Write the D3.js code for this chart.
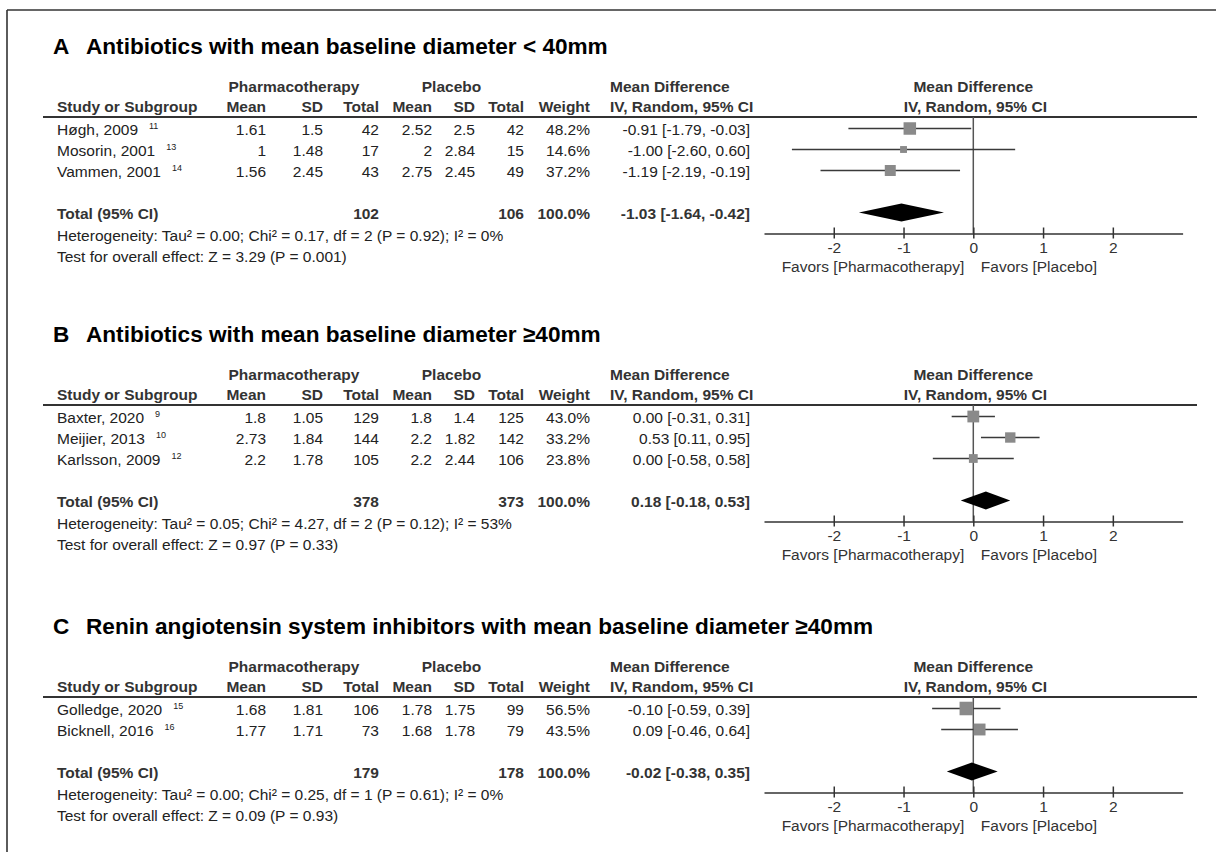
<!DOCTYPE html>
<html>
<head>
<meta charset="utf-8">
<script src="https://cdn.jsdelivr.net/npm/d3@7"></script>
<style>
  html, body { margin: 0; padding: 0; background: #fff; }
  svg { display: block; font-family: "Liberation Sans", Arial, sans-serif; }
</style>
</head>
<body>
<svg id="chart" width="1216" height="852"></svg>
<script>
// Panel titles
const panelLetters = ["A", "B", "C"];
const panelTitles = [
  "Antibiotics with mean baseline diameter < 40mm",
  "Antibiotics with mean baseline diameter ≥40mm",
  "Renin angiotensin system inhibitors with mean baseline diameter ≥40mm"
];

// Study rows: name, ref, pharm mean, pharm SD, pharm n, placebo mean, placebo SD, placebo n, weight %, MD, CI low, CI high
const rowsA = [
  ["Høgh, 2009", "11", 1.61, 1.5, 42, 2.52, 2.5, 42, 48.2, -0.91, -1.79, -0.03],
  ["Mosorin, 2001", "13", 1, 1.48, 17, 2, 2.84, 15, 14.6, -1.00, -2.60, 0.60],
  ["Vammen, 2001", "14", 1.56, 2.45, 43, 2.75, 2.45, 49, 37.2, -1.19, -2.19, -0.19]
];
const rowsB = [
  ["Baxter, 2020", "9", 1.8, 1.05, 129, 1.8, 1.4, 125, 43.0, 0.00, -0.31, 0.31],
  ["Meijier, 2013", "10", 2.73, 1.84, 144, 2.2, 1.82, 142, 33.2, 0.53, 0.11, 0.95],
  ["Karlsson, 2009", "12", 2.2, 1.78, 105, 2.2, 2.44, 106, 23.8, 0.00, -0.58, 0.58]
];
const rowsC = [
  ["Golledge, 2020", "15", 1.68, 1.81, 106, 1.78, 1.75, 99, 56.5, -0.10, -0.59, 0.39],
  ["Bicknell, 2016", "16", 1.77, 1.71, 73, 1.68, 1.78, 79, 43.5, 0.09, -0.46, 0.64]
];

// Pooled totals: pharm n, placebo n, weight %, MD, CI low, CI high
const totalA = [102, 106, 100.0, -1.03, -1.64, -0.42];
const totalB = [378, 373, 100.0, 0.18, -0.18, 0.53];
const totalC = [179, 178, 100.0, -0.02, -0.38, 0.35];

// Heterogeneity and overall-effect lines
const hetLines = [
  "Heterogeneity: Tau² = 0.00; Chi² = 0.17, df = 2 (P = 0.92); I² = 0%",
  "Heterogeneity: Tau² = 0.05; Chi² = 4.27, df = 2 (P = 0.12); I² = 53%",
  "Heterogeneity: Tau² = 0.00; Chi² = 0.25, df = 1 (P = 0.61); I² = 0%"
];
const testLines = [
  "Test for overall effect: Z = 3.29 (P = 0.001)",
  "Test for overall effect: Z = 0.97 (P = 0.33)",
  "Test for overall effect: Z = 0.09 (P = 0.93)"
];

// Forest axis
const axisDomain = [-3, 3];
const tickValues = [-2, -1, 0, 1, 2];
const favorsLeft = "Favors [Pharmacotherapy]";
const favorsRight = "Favors [Placebo]";

const panels = [
  { rows: rowsA, total: totalA },
  { rows: rowsB, total: totalB },
  { rows: rowsC, total: totalC }
];

// ---- layout ----
const ruleYs = [117, 405, 697];
const FS = 15.5;
const rowH = 21;
const cols = { name: 57, pMean: 266, pSD: 323, pN: 379, cMean: 432, cSD: 475, cN: 524, w: 590, ciL: 610, ci: 750 };
const textColor = "#222";
const headColor = "#333";

const svg = d3.select("#chart");

// Frame (top and left edges)
svg.append("line").attr("x1", 7).attr("x2", 1216).attr("y1", 10).attr("y2", 10)
  .attr("stroke", "#333").attr("stroke-width", 1.6);
svg.append("line").attr("x1", 7).attr("x2", 7).attr("y1", 10).attr("y2", 852)
  .attr("stroke", "#333").attr("stroke-width", 1.6);

const x = d3.scaleLinear().domain(axisDomain).range([764, 1182.6]);
const boxSize = d3.scaleSqrt().domain([0, 100]).range([0, 18]);

const fmtMD = v => v.toFixed(2);
const fmtCI = (m, l, h) => `${fmtMD(m)} [${fmtMD(l)}, ${fmtMD(h)}]`;

panels.forEach((p, pi) => {
  const ry = ruleYs[pi];
  const g = svg.append("g");

  // Title
  g.append("text").attr("x", 53).attr("y", ry - 63.5)
    .attr("font-size", 22.6).attr("font-weight", "bold").attr("fill", "#000")
    .text(panelLetters[pi]);
  g.append("text").attr("x", 86).attr("y", ry - 63.5)
    .attr("font-size", 22.6).attr("font-weight", "bold").attr("fill", "#000")
    .text(panelTitles[pi]);

  // Header rows
  const h1 = ry - 25, h2 = ry - 5;
  const head = (txt, xx, yy, anchor) => g.append("text")
    .attr("x", xx).attr("y", yy).attr("text-anchor", anchor)
    .attr("font-size", FS).attr("font-weight", "bold").attr("fill", headColor).text(txt);
  head("Pharmacotherapy", 294, h1, "middle");
  head("Placebo", 451.5, h1, "middle");
  head("Mean Difference", cols.ciL, h1, "start");
  head("Mean Difference", x(0), h1, "middle");
  head("Study or Subgroup", cols.name, h2, "start");
  head("Mean", cols.pMean, h2, "end");
  head("SD", cols.pSD, h2, "end");
  head("Total", cols.pN, h2, "end");
  head("Mean", cols.cMean, h2, "end");
  head("SD", cols.cSD, h2, "end");
  head("Total", cols.cN, h2, "end");
  head("Weight", cols.w, h2, "end");
  head("IV, Random, 95% CI", cols.ciL, h2, "start");
  head("IV, Random, 95% CI", x(0) + 2, h2, "middle");

  // Header rule
  g.append("line").attr("x1", 43).attr("x2", 1197).attr("y1", ry).attr("y2", ry)
    .attr("stroke", "#333").attr("stroke-width", 2);

  // Row geometry
  const rowY = i => ry + 11.5 + i * rowH;
  const diamondY = rowY(p.rows.length - 1) + 42;
  const axisY = diamondY + 21;

  // Zero line
  g.append("line").attr("x1", x(0)).attr("x2", x(0)).attr("y1", ry).attr("y2", axisY)
    .attr("stroke", "#555").attr("stroke-width", 1.5);

  // Study rows: table cells
  const rowG = g.selectAll("g.row").data(p.rows).join("g").attr("class", "row");
  rowG.each(function (d, i) {
    const rg = d3.select(this);
    const by = rowY(i) + 6;
    const name = rg.append("text").attr("x", cols.name).attr("y", by)
      .attr("font-size", FS).attr("fill", textColor).text(d[0]);
    name.append("tspan").attr("dx", 11).attr("dy", -6).attr("font-size", 9).text(d[1]);
    const cell = (txt, xx) => rg.append("text").attr("x", xx).attr("y", by)
      .attr("text-anchor", "end").attr("font-size", FS).attr("fill", textColor).text(txt);
    cell(String(d[2]), cols.pMean);
    cell(String(d[3]), cols.pSD);
    cell(String(d[4]), cols.pN);
    cell(String(d[5]), cols.cMean);
    cell(String(d[6]), cols.cSD);
    cell(String(d[7]), cols.cN);
    cell(d[8].toFixed(1) + "%", cols.w);
    cell(fmtCI(d[9], d[10], d[11]), cols.ci);

    // Forest marks: CI whisker and weighted square
    rg.append("line").attr("x1", x(d[10])).attr("x2", x(d[11]))
      .attr("y1", rowY(i)).attr("y2", rowY(i))
      .attr("stroke", "#3a3a3a").attr("stroke-width", 1.5);
    const s = boxSize(d[8]);
    rg.append("rect").attr("x", x(d[9]) - s / 2).attr("y", rowY(i) - s / 2)
      .attr("width", s).attr("height", s).attr("fill", "#8a8a8a");
  });

  // Total row
  const t = p.total;
  const tb = diamondY + 6;
  const tcell = (txt, xx, anchor) => g.append("text").attr("x", xx).attr("y", tb)
    .attr("text-anchor", anchor).attr("font-size", FS).attr("font-weight", "bold")
    .attr("fill", headColor).text(txt);
  tcell("Total (95% CI)", cols.name, "start");
  tcell(String(t[0]), cols.pN, "end");
  tcell(String(t[1]), cols.cN, "end");
  tcell(t[2].toFixed(1) + "%", cols.w, "end");
  tcell(fmtCI(t[3], t[4], t[5]), cols.ci, "end");

  // Pooled diamond
  const dh = 9;
  g.append("path")
    .attr("d", `M${x(t[4])},${diamondY} L${x(t[3])},${diamondY - dh} L${x(t[5])},${diamondY} L${x(t[3])},${diamondY + dh} Z`)
    .attr("fill", "#000");

  // Heterogeneity / overall effect
  g.append("text").attr("x", cols.name).attr("y", tb + 22)
    .attr("font-size", FS).attr("fill", textColor).text(hetLines[pi]);
  g.append("text").attr("x", cols.name).attr("y", tb + 43)
    .attr("font-size", FS).attr("fill", textColor).text(testLines[pi]);

  // Axis
  const ax = g.append("g").attr("transform", `translate(0,${axisY})`)
    .call(d3.axisBottom(x).tickValues(tickValues).tickSize(5).tickSizeOuter(0).tickFormat(d3.format("d")));
  ax.select(".domain").attr("stroke", "#333").attr("stroke-width", 1.6);
  ax.selectAll(".tick line").attr("y1", -6).attr("y2", 5).attr("stroke", "#333").attr("stroke-width", 1.5);
  ax.selectAll(".tick text").attr("y", 19.5).attr("dy", 0)
    .attr("font-size", FS).attr("font-family", "Liberation Sans, Arial, sans-serif").attr("fill", "#333")
    .text(d => d < 0 ? "-" + Math.abs(d) : String(d));

  g.append("text").attr("x", x(0) - 9).attr("y", axisY + 38).attr("text-anchor", "end")
    .attr("font-size", FS).attr("fill", "#333").text(favorsLeft);
  g.append("text").attr("x", x(0) + 7.5).attr("y", axisY + 38).attr("text-anchor", "start")
    .attr("font-size", FS).attr("fill", "#333").text(favorsRight);
});
</script>
</body>
</html>
